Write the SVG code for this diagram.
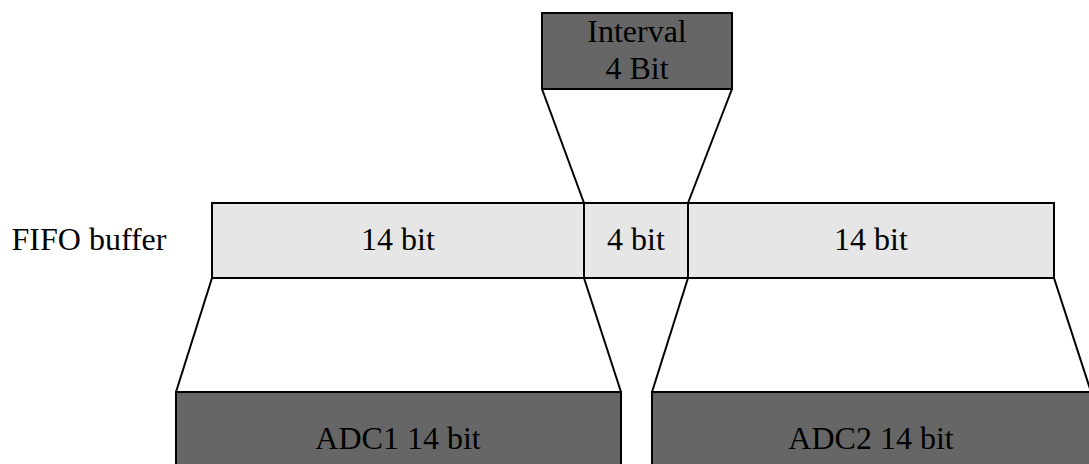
<svg xmlns="http://www.w3.org/2000/svg" width="1089" height="464" viewBox="0 0 1089 464">
<style>
.dark{fill:#666666;stroke:#000;stroke-width:2}
.light{fill:#e6e6e6;stroke:#000;stroke-width:2}
.ln{stroke:#000;stroke-width:2;fill:none}
.t{font-size:32px;fill:#000;text-anchor:middle}
</style>
<rect width="1089" height="464" fill="#fff"/>
<g id="connectors">
<line class="ln" x1="542" y1="89" x2="584" y2="203"/>
<line class="ln" x1="732" y1="89" x2="688" y2="203"/>
<line class="ln" x1="212" y1="278" x2="176" y2="392"/>
<line class="ln" x1="584" y1="278" x2="621" y2="392"/>
<line class="ln" x1="688" y1="278" x2="652" y2="392"/>
<line class="ln" x1="1054" y1="278" x2="1091" y2="392"/>
</g>
<g font-family="Liberation Serif, Tinos, Times New Roman, DejaVu Serif, serif">
<g id="interval">
<rect class="dark" x="542" y="13" width="190" height="76"/>
<text class="t" x="637" y="42">Interval</text>
<text class="t" x="637" y="79">4 Bit</text>
</g>
<g id="fifo-label">
<text class="t" x="89" y="250">FIFO buffer</text>
</g>
<g id="fifo-14a">
<rect class="light" x="212" y="203" width="372" height="75"/>
<text class="t" x="398" y="250">14 bit</text>
</g>
<g id="fifo-4">
<rect class="light" x="584" y="203" width="104" height="75"/>
<text class="t" x="636" y="250">4 bit</text>
</g>
<g id="fifo-14b">
<rect class="light" x="688" y="203" width="366" height="75"/>
<text class="t" x="871" y="250">14 bit</text>
</g>
<g id="adc1">
<rect class="dark" x="176" y="392" width="445" height="80"/>
<text class="t" x="398" y="449">ADC1 14 bit</text>
</g>
<g id="adc2">
<rect class="dark" x="652" y="392" width="440" height="80"/>
<text class="t" x="871" y="449">ADC2 14 bit</text>
</g>
</g>
</svg>
